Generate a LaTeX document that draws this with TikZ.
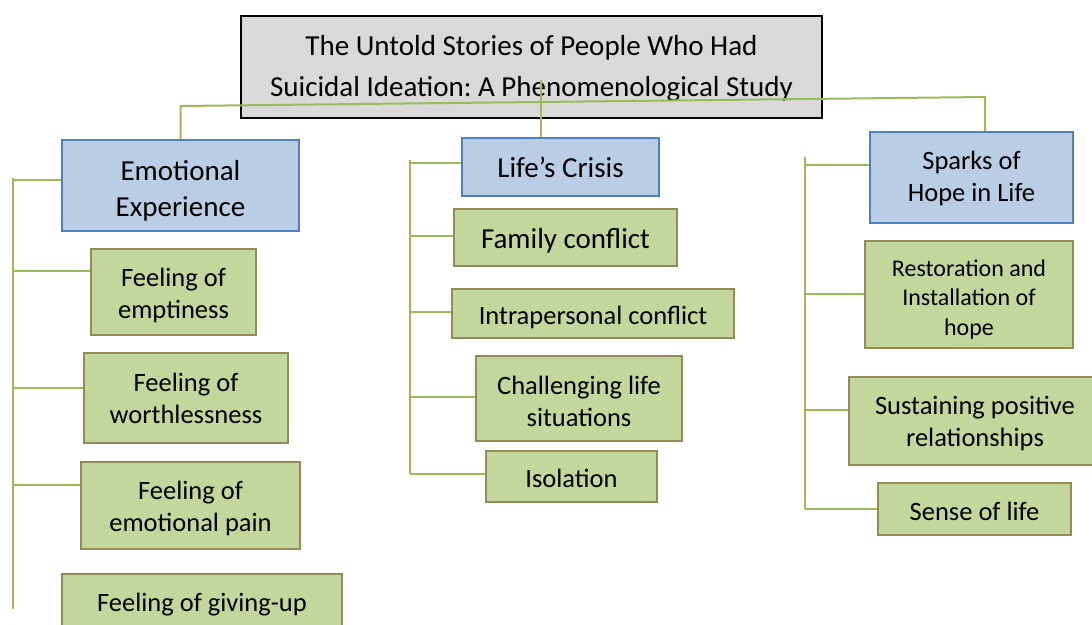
\documentclass[tikz,border=0pt]{standalone}
\usepackage{fontspec}
\setmainfont{Carlito}
\frenchspacing
\definecolor{bluefill}{HTML}{B9CDE5}
\definecolor{blueline}{HTML}{4F81BD}
\definecolor{greenfill}{HTML}{C3D69B}
\definecolor{greenline}{HTML}{948A54}
\definecolor{connc}{HTML}{9BBB59}
\definecolor{titlefill}{HTML}{D9D9D9}
% pushes the text of a box down by #1
\newcommand\txtdown[1]{\rule{0pt}{\dimexpr0.72em+2\dimexpr#1\relax\relax}}
\begin{document}
\begin{tikzpicture}[x=1pt,y=-1pt,
  box/.style={draw, line width=1.6pt, align=center, inner sep=0pt},
  titlebox/.style={box, fill=titlefill, draw=black, font=\fontsize{29}{41}\selectfont},
  theme/.style={box, fill=bluefill, draw=blueline, font=\fontsize{29}{36}\selectfont},
  sub/.style={box, fill=greenfill, draw=greenline, font=\fontsize{26.5}{32}\selectfont},
  subsmall/.style={sub, font=\fontsize{24}{29.5}\selectfont},
  link/.style={draw=connc, line width=2pt}]
\useasboundingbox (0,0) rectangle (1092,624);
\fill[white] (0,0) rectangle (1092,624);

% title
\node[titlebox, minimum width=581pt, minimum height=102pt] (title) at (531.5,67)
  {\txtdown{1pt}The Untold Stories of People Who Had\\Suicidal Ideation: A Phenomenological Study};

% themes
\node[theme, minimum width=237pt, minimum height=91pt] (emo) at (180.5,185.5) {\txtdown{4.5pt}Emotional\\Experience};
\node[theme, minimum width=197pt, minimum height=58pt] (life) at (560.5,167) {\txtdown{0pt}Life’s Crisis};
\node[theme, font=\fontsize{26.5}{32}\selectfont, minimum width=203pt, minimum height=91pt] (sparks) at (971.5,177.5) {\txtdown{1pt}Sparks of\\Hope in Life};

% left column
\node[sub, minimum width=165pt, minimum height=86pt] (empt) at (173.5,292) {\txtdown{3pt}Feeling of\\emptiness};
\node[sub, minimum width=204pt, minimum height=90pt] (worth) at (186,398) {\txtdown{0pt}Feeling of\\worthlessness};
\node[sub, minimum width=219pt, minimum height=87pt] (pain) at (190.5,505.5) {\txtdown{3pt}Feeling of\\emotional pain};
\node[sub, minimum width=280pt, minimum height=56pt] (giveup) at (202,602) {\txtdown{2pt}Feeling of giving-up};

% middle column
\node[sub, font=\fontsize{29}{36}\selectfont, minimum width=223pt, minimum height=57pt] (family) at (565.5,237.5) {\txtdown{3pt}Family conflict};
\node[sub, minimum width=282pt, minimum height=49pt] (intra) at (593,313.5) {\txtdown{4pt}Intrapersonal conflict};
\node[sub, minimum width=206pt, minimum height=85pt] (chall) at (579,398.5) {\txtdown{2.5pt}Challenging life\\situations};
\node[sub, minimum width=171pt, minimum height=51pt] (iso) at (571.5,476.5) {\txtdown{2pt}Isolation};

% right column
\node[subsmall, minimum width=208pt, minimum height=107pt] (resto) at (969,294.5) {\txtdown{4.5pt}Restoration and\\Installation of\\hope};
\node[sub, minimum width=252pt, minimum height=88pt] (sust) at (975,421) {\txtdown{2.5pt}Sustaining positive\\relationships};
\node[sub, minimum width=193pt, minimum height=52pt] (sense) at (974.5,509) {\txtdown{2pt}Sense of life};

% hub connectors
\coordinate (hubL) at (179,106);
\coordinate (hubR) at (985,97);
\coordinate (hubM) at (541,80);
\draw[link] (emo.north) -- (emo.north |- hubL) -- (hubR) -- (hubR |- sparks.north);
\draw[link] (hubM) -- (hubM |- life.north);

% left spine
\coordinate (lTop) at (13,178);
\coordinate (lBot) at (13,609);
\draw[link] (lTop) -- (lBot);
\draw[link] ([yshift=6pt]emo.west) -- ([yshift=6pt]emo.west -| lTop);
\draw[link] ([yshift=21pt]empt.west) -- ([yshift=21pt]empt.west -| lTop);
\draw[link] ([yshift=10pt]worth.west) -- ([yshift=10pt]worth.west -| lTop);
\draw[link] ([yshift=21pt]pain.west) -- ([yshift=21pt]pain.west -| lTop);

% middle spine
\coordinate (mTop) at (410,160);
\coordinate (mBot) at (410,474);
\draw[link] (mTop) -- (mBot);
\draw[link] ([yshift=4pt]life.west) -- ([yshift=4pt]life.west -| mTop);
\draw[link] ([yshift=2pt]family.west) -- ([yshift=2pt]family.west -| mTop);
\draw[link] ([yshift=2pt]intra.west) -- ([yshift=2pt]intra.west -| mTop);
\draw[link] ([yshift=2pt]chall.west) -- ([yshift=2pt]chall.west -| mTop);
\draw[link] ([yshift=3pt]iso.west) -- ([yshift=3pt]iso.west -| mTop);

% right spine
\coordinate (rTop) at (805,157);
\coordinate (rBot) at (805,509);
\draw[link] (rTop) -- (rBot);
\draw[link] ([yshift=13pt]sparks.west) -- ([yshift=13pt]sparks.west -| rTop);
\draw[link] ([yshift=1pt]resto.west) -- ([yshift=1pt]resto.west -| rTop);
\draw[link] ([yshift=11pt]sust.west) -- ([yshift=11pt]sust.west -| rTop);
\draw[link] (sense.west) -- (sense.west -| rTop);
\end{tikzpicture}
\end{document}
